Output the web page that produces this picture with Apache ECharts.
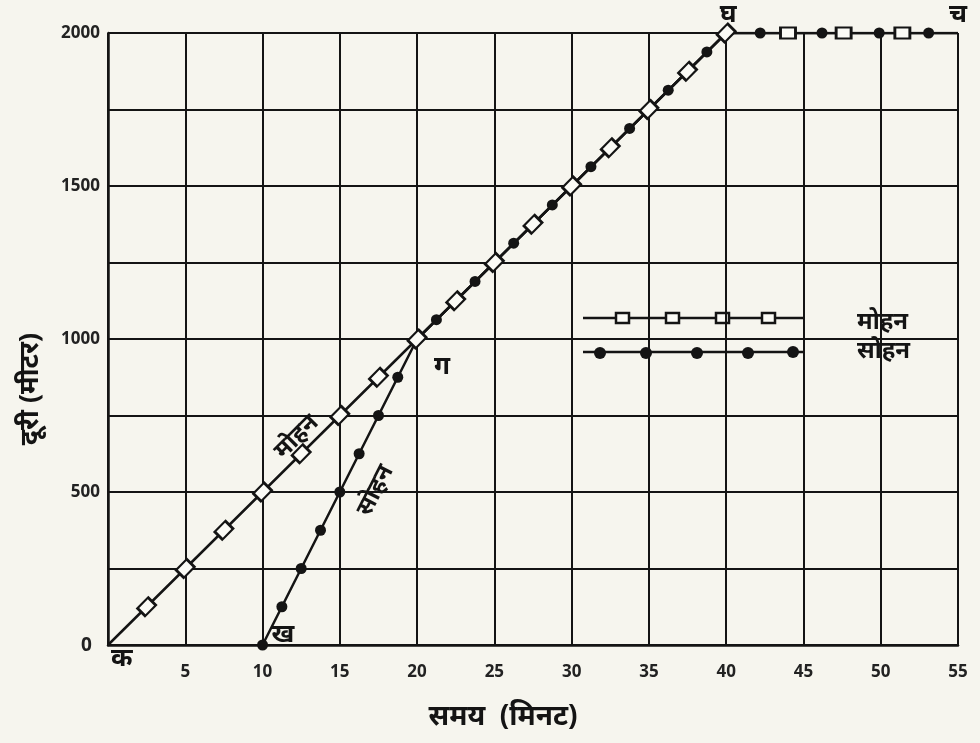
<!DOCTYPE html>
<html>
<head>
<meta charset="utf-8">
<script src="https://cdn.jsdelivr.net/npm/echarts@6/dist/echarts.min.js"></script>
<style>
html,body{margin:0;padding:0;background:#f6f5ee;}
#c{width:980px;height:743px;}
</style>
</head>
<body>
<div id="c"></div>
<script>
// Mohan: path vertices (time in minutes, distance in metres)
const mohanTime = [0, 40, 55];
const mohanDist = [0, 2000, 2000];
// Mohan open-square markers
const mohanMarkTime = [2.5, 5, 7.5, 10, 12.5, 15, 17.5, 20, 22.5, 25, 27.5, 30, 32.5, 35, 37.5, 40, 44, 47.6, 51.4];
const mohanMarkDist = [125, 250, 375, 500, 625, 750, 875, 1000, 1125, 1250, 1375, 1500, 1625, 1750, 1875, 2000, 2000, 2000, 2000];
// Sohan: path vertices
const sohanTime = [10, 20, 40, 55];
const sohanDist = [0, 1000, 2000, 2000];
// Sohan filled-dot markers
const sohanMarkTime = [10, 11.25, 12.5, 13.75, 15, 16.25, 17.5, 18.75, 21.25, 23.75, 26.25, 28.75, 31.25, 33.75, 36.25, 38.75, 42.2, 46.2, 49.9, 53.1];
const sohanMarkDist = [0, 125, 250, 375, 500, 625, 750, 875, 1063, 1188, 1313, 1438, 1563, 1688, 1813, 1938, 2000, 2000, 2000, 2000];
// Point letters
const pointNames = ['क', 'ख', 'ग', 'घ', 'च'];
const pointTime = [0, 10, 20, 40, 55];
const pointDist = [0, 0, 1000, 2000, 2000];
// Tick labels
const xTicks = [0, 5, 10, 15, 20, 25, 30, 35, 40, 45, 50, 55];
const yTicks = [500, 1000, 1500, 2000];
const originLabel = '0';
const seriesNames = ['मोहन', 'सोहन'];
const xTitle = 'समय  (मिनट)';
const yTitle = 'दूरी (मीटर)';

const ink = '#141414';
const paper = '#f6f5ee';
const FONT = '"Noto Sans", "DejaVu Sans", sans-serif';
const zip = (a, b) => a.map((v, i) => [v, b[i]]);

const pointPos = ['insideTopLeft', 'right', 'insideTopLeft', 'top', 'top'];
const pointOffset = [[-2, -4], [4, -10], [12, 10], [2, 0], [0, 0]];

const chart = echarts.init(document.getElementById('c'));
chart.setOption({
  backgroundColor: paper,
  animation: false,
  grid: {left: 108, right: 22, top: 33, bottom: 98, containLabel: false},
  xAxis: {
    type: 'value', min: 0, max: 55, interval: 5,
    name: xTitle, nameLocation: 'middle', nameGap: 58,
    nameTextStyle: {fontFamily: FONT, fontSize: 28, fontWeight: 'bold', color: ink, padding: [0, 60, 0, 0]},
    axisLine: {show: true, lineStyle: {color: ink, width: 2.5}},
    axisTick: {show: false},
    splitLine: {show: true, lineStyle: {color: ink, width: 2}},
    axisLabel: {
      margin: 19, fontFamily: FONT, fontSize: 17, fontWeight: 'bold', color: '#222',
      formatter: v => (v === 0 || xTicks.indexOf(v) < 0) ? '' : String(v)
    }
  },
  yAxis: {
    type: 'value', min: 0, max: 2000, interval: 250,
    axisLine: {show: true, lineStyle: {color: ink, width: 2.5}},
    axisTick: {show: false},
    splitLine: {show: true, lineStyle: {color: ink, width: 2}},
    axisLabel: {
      margin: 8, fontFamily: FONT, fontSize: 17, fontWeight: 'bold', color: '#222',
      formatter: v => yTicks.indexOf(v) < 0 ? '' : String(v)
    }
  },
  series: [
    {
      name: seriesNames[0], type: 'line', data: zip(mohanTime, mohanDist),
      showSymbol: false, lineStyle: {color: ink, width: 2.5}, z: 3
    },
    {
      name: seriesNames[1], type: 'line', data: zip(sohanTime, sohanDist),
      showSymbol: false, lineStyle: {color: ink, width: 2.5}, z: 3
    },
    {
      type: 'scatter', data: zip(sohanMarkTime, sohanMarkDist),
      symbol: 'circle', symbolSize: 11,
      itemStyle: {color: ink, opacity: 1}, z: 4
    },
    {
      type: 'scatter', data: zip(mohanMarkTime, mohanMarkDist).map(p => ({
        value: p, symbolRotate: p[1] >= 2000 && p[0] > 40 ? 0 : 45
      })),
      symbol: 'rect', symbolSize: [15, 11],
      itemStyle: {color: '#fbfbf6', borderColor: ink, borderWidth: 2.5, opacity: 1}, z: 5
    },
    {
      type: 'scatter', symbolSize: 0, z: 6, itemStyle: {opacity: 1, color: ink},
      data: pointNames.map((n, i) => ({
        value: [pointTime[i], pointDist[i]],
        label: {show: true, formatter: n, position: pointPos[i], offset: pointOffset[i]}
      })),
      label: {fontFamily: FONT, fontSize: 26, fontWeight: 'bold', color: ink, opacity: 1}
    },
    {
      type: 'scatter', symbolSize: 0, z: 6, itemStyle: {opacity: 1, color: ink},
      data: [
        {value: [12.2, 680], label: {show: true, formatter: seriesNames[0], rotate: 45, position: 'inside'}},
        {value: [17.3, 505], label: {show: true, formatter: seriesNames[1], rotate: 63, position: 'inside'}}
      ],
      label: {fontFamily: FONT, fontSize: 24, fontWeight: 'bold', color: ink, opacity: 1}
    }
  ],
  graphic: [
    {type: 'line', shape: {x1: 583, y1: 318, x2: 803, y2: 318}, style: {stroke: ink, lineWidth: 2.5}},
    {type: 'rect', shape: {x: 616, y: 313, width: 13, height: 10}, style: {fill: '#fbfbf6', stroke: ink, lineWidth: 2.5}},
    {type: 'rect', shape: {x: 666, y: 313, width: 13, height: 10}, style: {fill: '#fbfbf6', stroke: ink, lineWidth: 2.5}},
    {type: 'rect', shape: {x: 716, y: 313, width: 13, height: 10}, style: {fill: '#fbfbf6', stroke: ink, lineWidth: 2.5}},
    {type: 'rect', shape: {x: 762, y: 313, width: 13, height: 10}, style: {fill: '#fbfbf6', stroke: ink, lineWidth: 2.5}},
    {type: 'line', shape: {x1: 583, y1: 352, x2: 805, y2: 352}, style: {stroke: ink, lineWidth: 2.5}},
    {type: 'circle', shape: {cx: 600, cy: 353, r: 6}, style: {fill: ink}},
    {type: 'circle', shape: {cx: 646, cy: 353, r: 6}, style: {fill: ink}},
    {type: 'circle', shape: {cx: 697, cy: 353, r: 6}, style: {fill: ink}},
    {type: 'circle', shape: {cx: 748, cy: 353, r: 6}, style: {fill: ink}},
    {type: 'circle', shape: {cx: 793, cy: 352, r: 6}, style: {fill: ink}},
    {type: 'text', left: 857, top: 310, style: {text: seriesNames[0], font: 'bold 24px ' + FONT, fill: ink}},
    {type: 'text', left: 857, top: 339, style: {text: seriesNames[1], font: 'bold 24px ' + FONT, fill: ink}},
    {type: 'text', left: 81, top: 636, style: {text: originLabel, font: 'bold 19px ' + FONT, fill: '#222'}},
    {type: 'text', x: 30, y: 389, rotation: Math.PI / 2,
      style: {text: yTitle, font: 'bold 27px ' + FONT, fill: ink, align: 'center', verticalAlign: 'middle'}}
  ]
});
</script>
</body>
</html>
